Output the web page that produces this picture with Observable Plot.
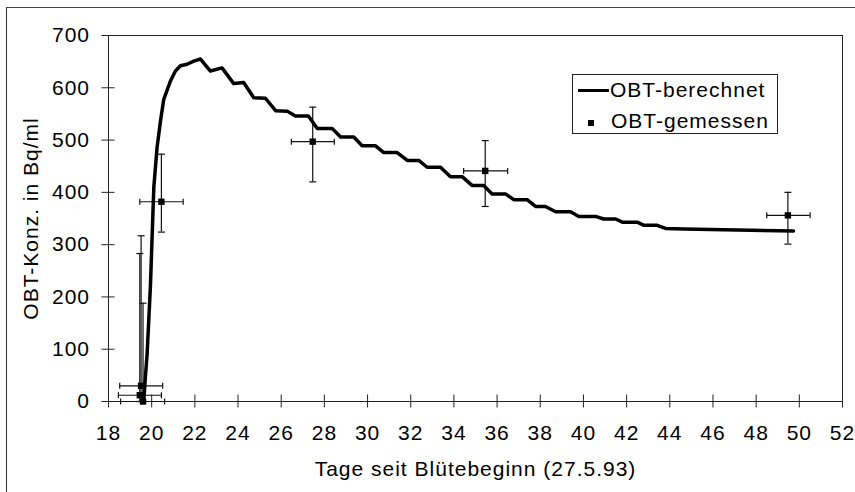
<!DOCTYPE html>
<html>
<head>
<meta charset="utf-8">
<script src="https://cdn.jsdelivr.net/npm/d3@7"></script>
<script src="https://cdn.jsdelivr.net/npm/@observablehq/plot@0.6"></script>
<style>
  body { margin: 0; background: #fff; }
  #wrap { position: relative; width: 855px; height: 492px; overflow: hidden; font-family: "Liberation Sans", Arial, sans-serif; background: #fff; }
  #outer { position: absolute; left: 6px; top: 7px; width: 900px; height: 600px; border-left: 1.5px solid #333; border-top: 1.5px solid #444; }
  #legend { position: absolute; left: 572px; top: 74px; width: 204px; height: 58px; border: 1px solid #222; background: #fff; font-size: 21px; letter-spacing: 1px; line-height: 21px; color: #000; }
  #legend .ln { position: absolute; left: 5px; top: 14px; width: 31px; height: 3px; background: #000; }
  #legend .sq { position: absolute; left: 15px; top: 45px; width: 6px; height: 6px; background: #000; }
  #legend .t1 { position: absolute; left: 37px; top: 4px; white-space: nowrap; }
  #legend .t2 { position: absolute; left: 38px; top: 35px; white-space: nowrap; }
</style>
</head>
<body>
<div id="wrap">
  <div id="outer"></div>
</div>
<script>
// Computed curve (OBT-berechnet)
const curveX = [19.63, 19.71, 19.79, 19.94, 20.10, 20.25, 20.41, 20.56, 20.87, 21.10, 21.33, 21.64, 21.95, 22.26,
  22.72, 23.26, 23.80, 24.26, 24.73, 25.27, 25.75, 26.28, 26.66, 27.26, 27.67, 28.36, 28.75, 29.36,
  29.75, 30.37, 30.75, 31.37, 31.84, 32.37, 32.76, 33.38, 33.84, 34.38, 34.85, 35.38, 35.77, 36.39,
  36.77, 37.39, 37.78, 38.24, 38.71, 39.40, 39.79, 40.56, 40.93, 41.49, 41.80, 42.49, 42.80, 43.42,
  43.80, 44.64, 45.89, 49.73];
const curveY = [0, 47, 92, 219, 410, 486, 537, 578, 613, 632, 642, 645, 651, 655,
  632, 638, 608, 610, 581, 580, 556, 555, 546, 546, 522, 522, 506, 506,
  489, 489, 476, 476, 461, 461, 448, 448, 430, 430, 413, 413, 397, 397,
  386, 386, 373, 373, 363, 363, 354, 354, 349, 349, 343, 343, 337, 337,
  331, 330, 329, 326];

// Measured values (OBT-gemessen) with error bars
const measX = [19.51, 19.45, 19.60, 20.45, 27.46, 35.45, 49.47];
const measY = [30, 12, 0, 382, 497, 441, 356];
const measXLo = [18.52, 18.46, 18.56, 19.45, 26.47, 34.45, 48.49];
const measXHi = [20.51, 20.45, 20.60, 21.46, 28.46, 36.49, 50.50];
const measYLo = [0, 0, 0, 324, 420, 373, 301];
const measYHi = [317, 283, 188, 473, 563, 499, 400];

const xTicks = [18, 20, 22, 24, 26, 28, 30, 32, 34, 36, 38, 40, 42, 44, 46, 48, 50, 52];
const yTicks = [0, 100, 200, 300, 400, 500, 600, 700];

const xTitle = "Tage seit Blütebeginn (27.5.93)";
const yTitle = "OBT-Konz. in Bq/ml";
const seriesNames = ["OBT-berechnet", "OBT-gemessen"];

const curve = curveX.map((x, i) => ({x, y: curveY[i]}));
const meas = measX.map((x, i) => ({x, y: measY[i], xLo: measXLo[i], xHi: measXHi[i], yLo: measYLo[i], yHi: measYHi[i]}));

const capV = {draw(ctx) { ctx.moveTo(0, -3); ctx.lineTo(0, 3); }};
const capH = {draw(ctx) { ctx.moveTo(-3.5, 0); ctx.lineTo(3.5, 0); }};

const chart = Plot.plot({
  width: 855,
  height: 492,
  marginLeft: 108,
  marginRight: 13,
  marginTop: 35,
  marginBottom: 91,
  style: {fontFamily: "'Liberation Sans', Arial, sans-serif", fontSize: "21px", background: "transparent", color: "#000", letterSpacing: "1px"},
  x: {domain: [18, 52]},
  y: {domain: [0, 700]},
  marks: [
    Plot.frame({stroke: "#222", strokeWidth: 1}),
    Plot.axisX({ticks: xTicks, tickSize: 13, dy: -6.5, tickPadding: 17, label: null, tickFormat: d => String(d), stroke: "#222"}),
    Plot.axisY({ticks: yTicks, tickSize: 13, dx: 6.5, tickPadding: 12, label: null, tickFormat: d => String(d), stroke: "#222"}),
    Plot.ruleX(meas, {x: "x", y1: "yLo", y2: "yHi", stroke: "#111", strokeWidth: 1.2}),
    Plot.ruleY(meas, {y: "y", x1: "xLo", x2: "xHi", stroke: "#111", strokeWidth: 1.2}),
    Plot.dot(meas, {x: "xLo", y: "y", symbol: capV, fill: "none", stroke: "#111", strokeWidth: 1.2}),
    Plot.dot(meas, {x: "xHi", y: "y", symbol: capV, fill: "none", stroke: "#111", strokeWidth: 1.2}),
    Plot.dot(meas, {x: "x", y: "yLo", symbol: capH, fill: "none", stroke: "#111", strokeWidth: 1.2}),
    Plot.dot(meas, {x: "x", y: "yHi", symbol: capH, fill: "none", stroke: "#111", strokeWidth: 1.2}),
    Plot.line(curve, {x: "x", y: "y", stroke: "#000", strokeWidth: 3.5, curve: "linear", strokeLinejoin: "round"}),
    Plot.dot(meas, {x: "x", y: "y", symbol: "square", fill: "#000", r: 3.6}),
    Plot.text([xTitle], {text: d => d, frameAnchor: "bottom", textAnchor: "middle", lineAnchor: "middle", dy: 68, fontSize: 21}),
    Plot.text([yTitle], {text: d => d, frameAnchor: "left", textAnchor: "middle", lineAnchor: "middle", dx: -77, rotate: -90, fontSize: 21})
  ]
});

const wrap = document.getElementById("wrap");
chart.style.position = "absolute";
chart.style.left = "0px";
chart.style.top = "0px";
wrap.appendChild(chart);

const legend = document.createElement("div");
legend.id = "legend";
legend.innerHTML = `<div class="ln"></div><div class="t1"></div><div class="sq"></div><div class="t2"></div>`;
legend.querySelector(".t1").textContent = seriesNames[0];
legend.querySelector(".t2").textContent = seriesNames[1];
wrap.appendChild(legend);
</script>
</body>
</html>
